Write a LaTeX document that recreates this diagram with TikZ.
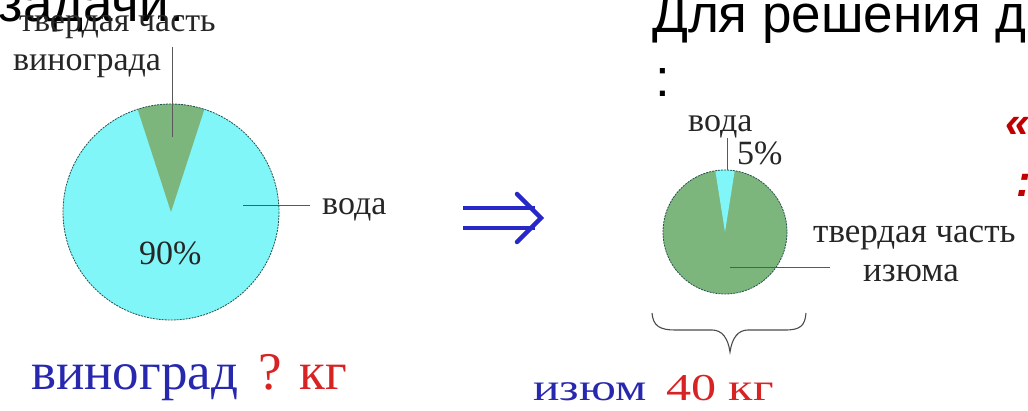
\documentclass[tikz,border=0pt]{standalone}
\usepackage{fontspec}
\setmainfont{Liberation Serif}
\newfontfamily\arialf{Liberation Sans}
\definecolor{piecyan}{RGB}{128,246,248}
\definecolor{piegreen}{RGB}{124,182,124}
\definecolor{rimcol}{RGB}{40,80,80}
\definecolor{arrblue}{RGB}{40,40,200}
\definecolor{txtblue}{RGB}{40,40,175}
\definecolor{txtred}{RGB}{215,35,35}
\definecolor{slidered}{RGB}{192,0,0}
\begin{document}
\begin{tikzpicture}[x=1pt,y=-1pt,
  lbl/.style={font=\fontsize{34}{40}\selectfont, text=black!85, inner sep=0, anchor=base west},
  rlbl/.style={font=\fontsize{35}{40}\selectfont, text=black!85, inner sep=0, anchor=base west},
  title/.style={font=\arialf\fontsize{53}{60}\selectfont, inner sep=0},
  rim/.style={draw=rimcol, line width=0.8pt, dash pattern=on 2pt off 1pt},
  leader/.style={draw=black!65, line width=1pt},
  bigtxt/.style={inner sep=0, anchor=base west}]
\useasboundingbox (0,0) rectangle (1028,411);
\clip (0,0) rectangle (1028,411);
\fill[white] (0,0) rectangle (1028,411);

% titles
\node[title, anchor=base east] (t1) at (184,22) {задачи:};
\node[title, anchor=base west] (t2) at (652,33) {Для решения д};
\node[title, anchor=base west] (t3) at (655,97) {:};
\node[font=\arialf\bfseries\itshape\fontsize{44}{50}\selectfont, text=slidered, inner sep=0, anchor=base west] (t4) at (1005,138) {«};
\node[font=\arialf\bfseries\itshape\fontsize{44}{50}\selectfont, text=slidered, inner sep=0, anchor=base west] (t5) at (1016,197) {:};

% left pie
\coordinate (L) at (171,212);
\fill[piecyan] (L) circle[radius=108];
\fill[piegreen] (L) -- ++(252:108) arc[start angle=252, end angle=288, radius=108] -- cycle;
\draw[rim] (L) circle[radius=108];
\node[lbl] (lt1) at (19,32) {твердая часть};
\node[lbl] (lt2) at (13,71) {винограда};
\node[lbl] (lw) at (322,215) {вода};
\node[lbl] (lp) at (139,265) {90\%};
\coordinate (lgt) at (172,47);
\coordinate (lgb) at (172,137);
\draw[leader] (lgt) -- (lgb);
\coordinate (lws) at (243,206);
\draw[leader] (lws) -- ([xshift=-12pt]lws -| lw.west);

% arrow
\coordinate (a1) at (463,208);
\coordinate (a2) at (535,208);
\coordinate (a3) at (463,228);
\coordinate (a4) at (535,228);
\coordinate (h1) at (517,194);
\coordinate (h2) at (541,218);
\coordinate (h3) at (517,242);
\draw[arrblue, line width=4pt] (a1) -- (a2) (a3) -- (a4);
\draw[arrblue, line width=4.5pt, line cap=round, line join=miter] (h1) -- (h2) -- (h3);

% right pie
\coordinate (R) at (725,232);
\fill[piegreen] (R) circle[radius=62];
\fill[piecyan] (R) -- ++(261:62) arc[start angle=261, end angle=279, radius=62] -- cycle;
\draw[rim] (R) circle[radius=62];
\node[lbl] (rw) at (688,132) {вода};
\node[lbl] (rp) at (737,165) {5\%};
\coordinate (rvt) at (727,138);
\coordinate (rvb) at (727,170);
\draw[leader] (rvt) -- (rvb);
\node[rlbl] (rt1) at (813,243) {твердая часть};
\node[rlbl] (rt2) at (863,282) {изюма};
\coordinate (rss) at (730,268);
\coordinate (rse) at (830,268);
\draw[leader] (rss) -- (rse);

% brace
\coordinate (b1) at (652,313);
\coordinate (bt) at (730,352);
\coordinate (b2) at (806,313);
\draw[black!70, line width=1.1pt]
  (b1) .. controls (653,326) and (660,330) .. (675,330)
  -- (712,330) .. controls (722,330) and (728,338) .. (bt)
  .. controls (732,338) and (738,330) .. (748,330)
  -- (785,330) .. controls (800,330) and (805,326) .. (b2);

% bottom texts
\node[bigtxt, text=txtblue, font=\fontsize{53}{60}\selectfont] (g1) at (31,390) {виноград};
\node[bigtxt, text=txtred, font=\fontsize{53}{60}\selectfont] (g2) at (258,390) {? кг};
\node[bigtxt, text=txtblue, font=\fontsize{38}{44}\selectfont] (z1) at (533,400) {\scalebox{1.3}[1]{изюм}};
\node[bigtxt, text=txtred, font=\fontsize{38}{44}\selectfont] (z2) at (666,400) {\scalebox{1.32}[1]{40 кг}};
\end{tikzpicture}
\end{document}
